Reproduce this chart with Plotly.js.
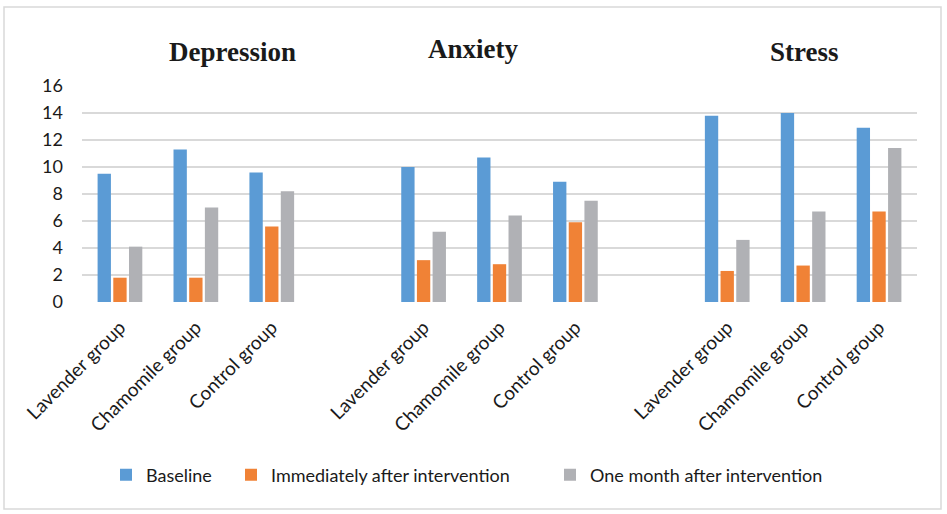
<!DOCTYPE html>
<html>
<head>
<meta charset="utf-8">
<script src="https://cdn.plot.ly/plotly-3.0.1.min.js"></script>
<style>html,body{margin:0;padding:0;background:#fff;}#chart{width:947px;height:514px;}</style>
</head>
<body>
<div id="chart"></div>
<script>
// Data
const groupLabels = ["Lavender group", "Chamomile group", "Control group"];
const panelTitles = ["Depression", "Anxiety", "Stress"];
const seriesNames = ["Baseline", "Immediately after intervention", "One month after intervention"];
// order: Depression (Lav, Cham, Ctrl), Anxiety (Lav, Cham, Ctrl), Stress (Lav, Cham, Ctrl)
const baseline  = [9.5, 11.3, 9.6, 10.0, 10.7, 8.9, 13.8, 14.0, 12.9];
const immediate = [1.8, 1.8, 5.6, 3.1, 2.8, 5.9, 2.3, 2.7, 6.7];
const oneMonth  = [4.1, 7.0, 8.2, 5.2, 6.4, 7.5, 4.6, 6.7, 11.4];
const yTicks = [0, 2, 4, 6, 8, 10, 12, 14, 16];

// category positions: three groups separated by one empty slot
const xPos = [];
const xText = [];
panelTitles.forEach((p, gi) => {
  groupLabels.forEach((g, ci) => {
    xPos.push(gi * 4 + ci);
    xText.push(g);
  });
});

const colors = ["#5b9bd5", "#f08236", "#b0b1b5"];
const seriesVals = [baseline, immediate, oneMonth];
const legendIds = ["legend2", "legend3", "legend4"];

const traces = seriesVals.map((vals, i) => ({
  type: "bar",
  name: seriesNames[i],
  x: xPos,
  y: vals,
  marker: {color: colors[i], line: {width: 0}},
  legend: legendIds[i],
  showlegend: true,
  hoverinfo: "y+name"
}));

const L = 82, R = 30, T = 86, B = 212;
const W = 947 - L - R, H = 514 - T - B;
const px = v => (v - L) / W;
const py = v => (514 - B - v) / H;

const fontFam = "Lato, 'Liberation Sans', sans-serif";
const legendBase = {
  orientation: "h",
  xanchor: "left",
  yanchor: "middle",
  y: py(475),
  font: {family: fontFam, size: 18, color: "#1a1a1a"},
  bgcolor: "rgba(0,0,0,0)",
  borderwidth: 0
};

const titlePos = [[232, 52], [473, 49], [804, 52]];
const annotations = panelTitles.map((t, i) => ({
  text: "<b>" + t + "</b>",
  xref: "paper", yref: "paper",
  x: px(titlePos[i][0]), y: py(titlePos[i][1]),
  xanchor: "center", yanchor: "middle",
  showarrow: false,
  font: {family: "'Liberation Serif', 'Times New Roman', serif", size: 27, color: "#1a1a1a"}
}));

const layout = {
  width: 947, height: 514,
  margin: {l: L, r: R, t: T, b: B, pad: 0},
  paper_bgcolor: "#fff",
  plot_bgcolor: "#fff",
  barmode: "group",
  bargap: 0.38,
  bargroupgap: 0.15,
  showlegend: true,
  xaxis: {
    range: [-0.5, 10.5],
    tickmode: "array",
    tickvals: xPos,
    ticktext: xText,
    tickangle: -45,
    ticks: "outside",
    ticklen: 6,
    tickcolor: "rgba(0,0,0,0)",
    showgrid: false,
    zeroline: false,
    showline: false,
    tickfont: {family: fontFam, size: 19, color: "#1a1a1a"},
    fixedrange: true
  },
  yaxis: {
    range: [0, 16],
    tickmode: "array",
    tickvals: yTicks,
    ticks: "",
    showgrid: true,
    gridcolor: "#d9d9d9",
    gridwidth: 1.5,
    zeroline: false,
    showline: false,
    ticklabelstandoff: 18,
    tickfont: {family: fontFam, size: 18, color: "#1a1a1a"},
    fixedrange: true
  },
  legend2: Object.assign({}, legendBase, {x: px(106)}),
  legend3: Object.assign({}, legendBase, {x: px(231)}),
  legend4: Object.assign({}, legendBase, {x: px(550)}),
  annotations: annotations,
  shapes: [{
    type: "rect", xref: "paper", yref: "paper",
    x0: px(4), x1: px(941), y0: py(509), y1: py(7),
    line: {color: "#d9d9d9", width: 1.5},
    fillcolor: "rgba(0,0,0,0)",
    layer: "below"
  }]
};

Plotly.newPlot("chart", traces, layout, {displayModeBar: false, staticPlot: true});
</script>
</body>
</html>
